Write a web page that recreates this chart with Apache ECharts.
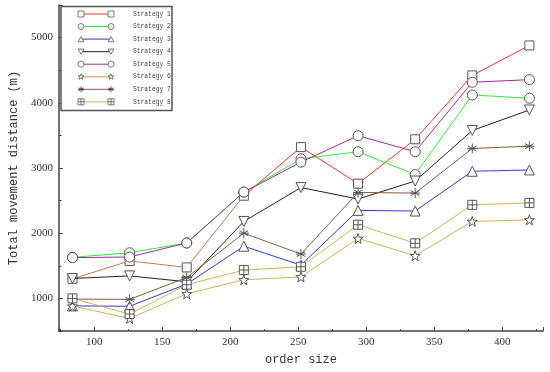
<!DOCTYPE html>
<html><head><meta charset="utf-8">
<script src="https://cdn.jsdelivr.net/npm/echarts@6/dist/echarts.min.js"></script>
<style>html,body{margin:0;padding:0;background:#fff}#c{width:550px;height:372px}</style>
</head><body><div id="c"></div>
<script>
// ---- data ----
const orderSize = [84, 126, 168, 210, 252, 294, 336, 378, 420];
const seriesNames = ['Strategy 1','Strategy 2','Strategy 3','Strategy 4','Strategy 5','Strategy 6','Strategy 7','Strategy 8'];
const strategy1 = [1300, 1575, 1475, 2575, 3320, 2760, 3440, 4420, 4880];
const strategy2 = [1630, 1700, 1850, 2630, 3140, 3250, 2900, 4120, 4070];
const strategy3 = [885, 880, 1220, 1800, 1510, 2350, 2340, 2950, 2970];
const strategy4 = [1305, 1345, 1255, 2180, 2700, 2525, 2800, 3575, 3890];
const strategy5 = [1625, 1635, 1850, 2630, 3090, 3495, 3250, 4315, 4355];
const strategy6 = [882, 693, 1070, 1285, 1330, 1920, 1655, 2180, 2205];
const strategy7 = [990, 985, 1320, 2000, 1680, 2625, 2615, 3300, 3335];
const strategy8 = [1000, 760, 1210, 1435, 1485, 2130, 1845, 2435, 2465];
const xTickLabels = [100, 150, 200, 250, 300, 350, 400];
const yTickLabels = [1000, 2000, 3000, 4000, 5000];

// ---- styles ----
const allValues = [strategy1, strategy2, strategy3, strategy4, strategy5, strategy6, strategy7, strategy8];
const legendColors = ['#ff3030', '#30ee30', '#3434e0', '#222222', '#a02a9a', '#ff8a5a', '#8a5a3a', '#c8b858'];
const plotColors   = ['#ff3030', '#30ee30', '#3434e0', '#222222', '#a02a9a', '#c8b858', '#8a5a3a', '#c8b858'];
// Strategy 1's line looks orange-brown up to the 4th point in the reference
const split = (orderSize[3] - orderSize[0]) / (orderSize[orderSize.length - 1] - orderSize[0]);
plotColors[0] = new echarts.graphic.LinearGradient(0, 0, 1, 0, [
  { offset: 0, color: '#d07448' }, { offset: split, color: '#d07448' },
  { offset: split, color: '#ff3030' }, { offset: 1, color: '#ff3030' }
]);
const SYM = {
  square: 'M0,0L10,0L10,10L0,10Z',
  tri: 'M5,0L10,8.66L0,8.66Z',
  triDown: 'M0,0L10,0L5,8.66Z',
  star: 'M5,0L6.18,3.38L9.76,3.46L6.9,5.62L7.94,9.05L5,7L2.06,9.05L3.1,5.62L0.24,3.46L3.82,3.38Z',
  aster: 'M5,0L5,10M0.7,2.5L9.3,7.5M9.3,2.5L0.7,7.5M0,5L10,5',
  sqCross: 'M0,0L10,0L10,10L0,10ZM5,0L5,10M0,5L10,5'
};
const symKeys = ['square', 'circle', 'tri', 'triDown', 'circle', 'star', 'aster', 'sqCross'];
const symSizes = [9, 10, 10, 10, 10, 10, 10, 9];
const markerStroke = '#555';

const series = allValues.map((vals, i) => ({
  name: seriesNames[i],
  type: 'line',
  xAxisIndex: 0, yAxisIndex: 0,
  data: orderSize.map((x, j) => [x, vals[j]]),
  symbol: symKeys[i] === 'circle' ? 'circle' : 'path://' + SYM[symKeys[i]],
  symbolSize: symSizes[i],
  showSymbol: true,
  lineStyle: { color: plotColors[i], width: 1 },
  itemStyle: { color: symKeys[i] === 'aster' ? 'rgba(0,0,0,0)' : '#fff', borderColor: markerStroke, borderWidth: 1 },
  emphasis: { disabled: true },
  animation: false,
  z: 2 + i
}));

// ---- legend (drawn with graphic) ----
const lgX = 61, lgY = 6.5, lgW = 111, lgH = 104;
const rowY0 = 14, rowStep = 12.55;
const lineX1 = 81, lineX2 = 111, textX = 133, ls = 6;
const mStyle = { fill: '#fff', stroke: markerStroke, lineWidth: 0.8 };
function pts(arr, cx, cy, s) {
  return arr.map(p => [cx - s / 2 + p[0] * s / 10, cy - s / 2 + p[1] * s / 10]);
}
function legendSymbol(key, cx, cy, s) {
  const h = s / 2, z = 102;
  switch (key) {
    case 'square': return [{ type: 'rect', shape: { x: cx - h, y: cy - h, width: s, height: s }, style: mStyle, z }];
    case 'circle': return [{ type: 'circle', shape: { cx, cy, r: h }, style: mStyle, z }];
    case 'tri': return [{ type: 'polygon', shape: { points: pts([[5,0.7],[10,9.3],[0,9.3]], cx, cy, s) }, style: mStyle, z }];
    case 'triDown': return [{ type: 'polygon', shape: { points: pts([[0,0.7],[10,0.7],[5,9.3]], cx, cy, s) }, style: mStyle, z }];
    case 'star': return [{ type: 'polygon', shape: { points: pts([[5,0],[6.18,3.38],[9.76,3.46],[6.9,5.62],[7.94,9.05],[5,7],[2.06,9.05],[3.1,5.62],[0.24,3.46],[3.82,3.38]], cx, cy, s) }, style: mStyle, z }];
    case 'aster': return [
      [[5,0],[5,10]], [[0.7,2.5],[9.3,7.5]], [[9.3,2.5],[0.7,7.5]], [[0,5],[10,5]]
    ].map(seg => { const p = pts(seg, cx, cy, s); return { type: 'line', shape: { x1: p[0][0], y1: p[0][1], x2: p[1][0], y2: p[1][1] }, style: { stroke: '#333', lineWidth: 0.8 }, z }; });
    case 'sqCross': return [
      { type: 'rect', shape: { x: cx - h, y: cy - h, width: s, height: s }, style: mStyle, z },
      { type: 'line', shape: { x1: cx, y1: cy - h, x2: cx, y2: cy + h }, style: { stroke: markerStroke, lineWidth: 0.8 }, z: z + 1 },
      { type: 'line', shape: { x1: cx - h, y1: cy, x2: cx + h, y2: cy }, style: { stroke: markerStroke, lineWidth: 0.8 }, z: z + 1 }
    ];
  }
  return [];
}
const legendEls = [{
  type: 'rect', shape: { x: lgX, y: lgY, width: lgW, height: lgH },
  style: { fill: '#fff', stroke: '#555', lineWidth: 1.5 }, z: 100
}];
seriesNames.forEach((name, i) => {
  const y = rowY0 + rowStep * i;
  legendEls.push({ type: 'line', shape: { x1: lineX1, y1: y, x2: lineX2, y2: y }, style: { stroke: legendColors[i], lineWidth: 1 }, z: 101 });
  [lineX1, lineX2].forEach(cx => { legendSymbol(symKeys[i], cx, y, ls).forEach(e => legendEls.push(e)); });
  legendEls.push({
    type: 'text', x: textX, y: y,
    style: { text: name, fontFamily: 'Liberation Mono', fontSize: 6.3, fill: '#444', verticalAlign: 'middle', align: 'left' },
    z: 102
  });
});

const axisCol = '#444';
const option = {
  backgroundColor: '#fff',
  animation: false,
  grid: { left: 51, right: 7, top: 5, bottom: 41, containLabel: false },
  xAxis: [{
    type: 'value', min: 74, max: 430, splitNumber: 7, minInterval: 50, maxInterval: 50,
    axisLine: { lineStyle: { color: axisCol, width: 1.5 } },
    axisTick: { inside: true, length: 4, lineStyle: { color: axisCol } },
    axisLabel: { formatter: v => xTickLabels.includes(v) ? String(v) : '', fontFamily: 'Liberation Serif', fontSize: 11, color: '#333', margin: 6 },
    splitLine: { show: false },
    name: 'order size', nameLocation: 'middle', nameGap: 23,
    nameTextStyle: { fontFamily: 'Liberation Mono', fontSize: 12, color: '#333' }
  }, {
    type: 'value', min: 74, max: 430, splitNumber: 14, minInterval: 25, maxInterval: 25,
    position: 'bottom', offset: 0,
    axisLine: { show: false },
    axisTick: { inside: true, length: 2, lineStyle: { color: axisCol } },
    axisLabel: { show: false }, splitLine: { show: false }
  }],
  yAxis: [{
    type: 'value', min: 500, max: 5500, splitNumber: 5, minInterval: 1000, maxInterval: 1000,
    axisLine: { show: true, lineStyle: { color: axisCol, width: 1.5 } },
    axisTick: { show: true, inside: true, length: 4, lineStyle: { color: axisCol } },
    axisLabel: { formatter: v => yTickLabels.includes(v) ? String(v) : '', fontFamily: 'Liberation Serif', fontSize: 11, color: '#333', margin: 6 },
    splitLine: { show: false },
    name: 'Total movement distance (m)', nameLocation: 'middle', nameGap: 31,
    nameTextStyle: { fontFamily: 'Liberation Mono', fontSize: 12, color: '#333' }
  }, {
    type: 'value', min: 500, max: 5500, interval: 500, position: 'left', offset: 0,
    axisLine: { show: false },
    axisTick: { show: true, inside: true, length: 2.5, lineStyle: { color: axisCol } },
    axisLabel: { show: false }, splitLine: { show: false }
  }],
  series: series,
  graphic: { elements: legendEls }
};
const chart = echarts.init(document.getElementById('c'), null, { renderer: 'canvas' });
chart.setOption(option);
</script></body></html>
